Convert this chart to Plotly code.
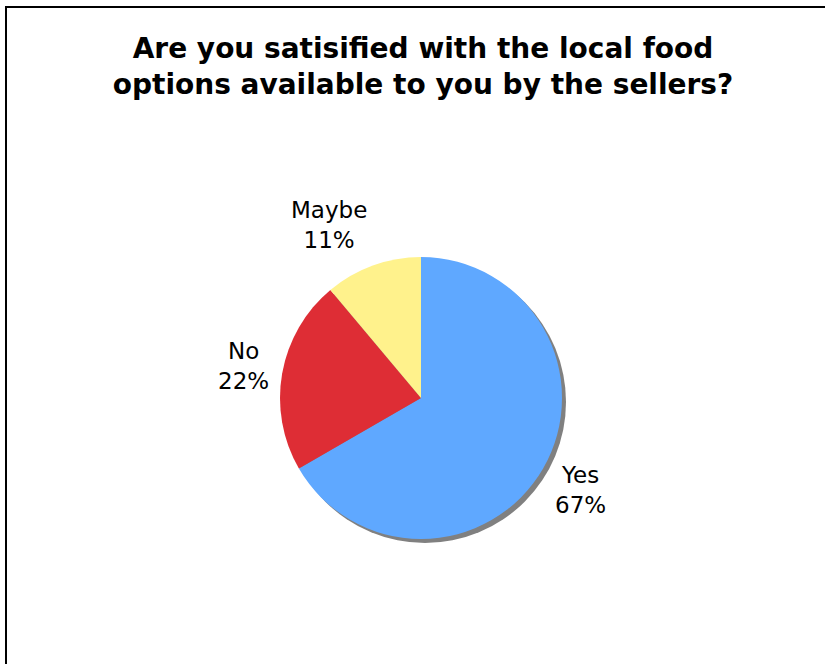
import math
import plotly.graph_objects as go

# Survey answers (number of respondents)
answers = ["Yes", "No", "Maybe"]
counts = [6, 2, 1]
slice_colors = ["#5FA8FF", "#DE2D35", "#FFF28C"]
title_lines = ["Are you satisified with the local food",
               "options available to you by the sellers?"]

W, H = 825, 664
CX, CY, R = 421, 398, 141      # pie centre and radius in pixels
SHADOW = 4                     # drop-shadow offset in pixels
LABEL_R = 152                  # radius at which outside labels are anchored
LABEL_HALF_H = 32              # half height of a two-line label
LABEL_SIZE = 23

fig = go.Figure()
fig.add_trace(go.Pie(
    labels=answers,
    values=counts,
    sort=False,
    direction="clockwise",
    rotation=0,
    marker=dict(colors=slice_colors, line=dict(width=0)),
    textinfo="none",
    hoverinfo="label+percent",
    showlegend=False,
    domain=dict(x=[(CX - R) / W, (CX + R) / W],
                y=[(H - CY - R) / H, (H - CY + R) / H]),
))

# outside data labels placed along each slice's mid-angle
total = sum(counts)
start = 0.0
for name, n in zip(answers, counts):
    frac = n / total
    mid = math.radians((start + frac / 2) * 360)   # clockwise from 12 o'clock
    start += frac
    dx, dy = math.sin(mid), math.cos(mid)
    ax = CX + LABEL_R * dx
    ay = CY - LABEL_R * dy
    fig.add_annotation(
        x=ax / W, y=1 - ay / H, xref="paper", yref="paper",
        text=f"{name}<br>{frac * 100:.0f}%",
        showarrow=False,
        xanchor="left" if dx > 0 else "right",
        yanchor="middle",
        yshift=dy * LABEL_HALF_H,
        align="center",
        font=dict(family="DejaVu Sans", size=LABEL_SIZE, color="#000000"),
    )

# grey drop shadow behind the pie
fig.add_shape(type="circle", xref="paper", yref="paper", layer="below",
              x0=(CX - R + SHADOW) / W, x1=(CX + R + SHADOW) / W,
              y0=(H - CY - R - SHADOW) / H, y1=(H - CY + R - SHADOW) / H,
              fillcolor="#808080", line=dict(width=0))

# chart frame: only the left and top edges fall inside the page
FX, FY = 6, 7
fig.add_shape(type="line", xref="paper", yref="paper",
              x0=FX / W, x1=FX / W, y0=0, y1=1 - (FY - 1) / H,
              line=dict(color="#000000", width=2))
fig.add_shape(type="line", xref="paper", yref="paper",
              x0=(FX - 1) / W, x1=1, y0=1 - FY / H, y1=1 - FY / H,
              line=dict(color="#000000", width=2))

fig.update_layout(
    width=W, height=H,
    margin=dict(l=0, r=0, t=0, b=0),
    paper_bgcolor="#FFFFFF",
    plot_bgcolor="#FFFFFF",
    title=dict(text="<b>" + "<br>".join(title_lines) + "</b>",
               x=423 / W, xanchor="center",
               y=1 - 58 / H, yanchor="middle",
               font=dict(family="DejaVu Sans", size=28, color="#000000")),
)

fig.write_html("out.html")
